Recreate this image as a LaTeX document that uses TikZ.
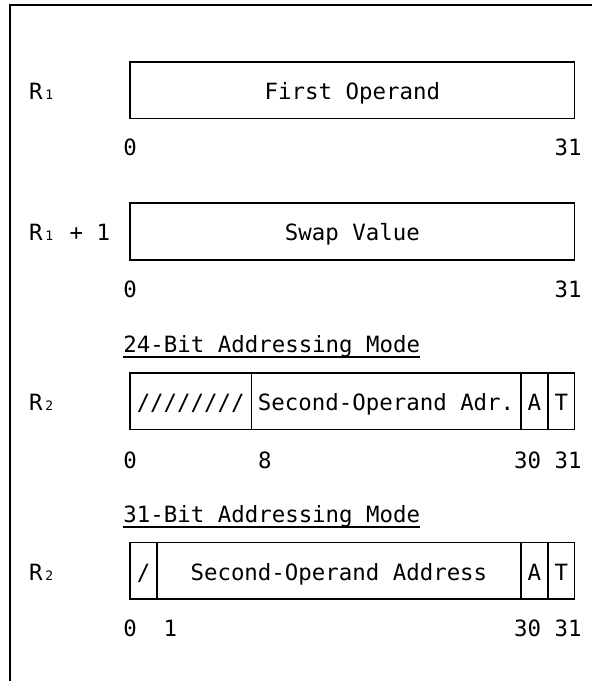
\documentclass[tikz,border=0pt]{standalone}
\usepackage{fontspec}
\newfontfamily\ibm{DejaVu Sans Mono}
\newcommand\subdig[1]{\makebox[13.48pt][c]{\fontsize{13}{13}\selectfont #1}}
\begin{document}
\begin{tikzpicture}[x=1pt,y=-1pt,
  txt/.style={font=\ibm\fontsize{22.4}{26}\selectfont, inner sep=0pt, anchor=base},
  lbl/.style={txt, anchor=base west},
  cellbox/.style={draw, line width=1.3pt, inner sep=0pt},
  frameline/.style={line width=1.5pt},
  uline/.style={line width=1.4pt}]
\useasboundingbox (0,0) rectangle (592,681);
% frame
\coordinate (ftr) at (592,5);
\coordinate (ftl) at (10,5);
\coordinate (fbl) at (10,681);
\draw[frameline] (ftr) -- (ftl) -- (fbl);

% ---- Register R1 ----
\node[lbl] (r1) at (28.9,99.5) {R\subdig{1}};
\draw[cellbox] (130,62) rectangle (574.8,118.5);
\node[txt] (fo) at (352.4,99.5) {First Operand};
\node[txt] (a0) at (130,155) {0};
\node[txt] (a31) at (568.1,155) {31};

% ---- Register R1+1 ----
\node[lbl] (r1p) at (28.9,240.5) {R\subdig{1} + 1};
\draw[cellbox] (130,203) rectangle (574.8,260);
\node[txt] (sv) at (352.4,240.5) {Swap Value};
\node[txt] (b0) at (130,297) {0};
\node[txt] (b31) at (568.1,297) {31};

% ---- 24-bit ----
\node[lbl] (h24) at (123.26,352) {24-Bit Addressing Mode};
\draw[uline] ([yshift=-5pt]h24.base west) -- ([yshift=-5pt]h24.base east);
\node[lbl] (r2a) at (28.9,410.5) {R\subdig{2}};
\draw[cellbox] (130,373) rectangle (574.8,429.5);
\draw[cellbox] (251.3,373) -- (251.3,429.5);
\draw[cellbox] (520.9,373) -- (520.9,429.5);
\draw[cellbox] (547.9,373) -- (547.9,429.5);
\node[txt] (s24) at (190.7,410.5) {////////};
\node[txt] (soa) at (386.1,410.5) {Second-Operand Adr.};
\node[txt] (aa) at (534.4,410.5) {A};
\node[txt] (ta) at (561.4,410.5) {T};
\node[txt] (c0) at (130,468) {0};
\node[txt] (c8) at (264.8,468) {8};
\node[txt] (c30) at (547.9,468) {30 31};

% ---- 31-bit ----
\node[lbl] (h31) at (123.26,522) {31-Bit Addressing Mode};
\draw[uline] ([yshift=-5pt]h31.base west) -- ([yshift=-5pt]h31.base east);
\node[lbl] (r2b) at (28.9,580.5) {R\subdig{2}};
\draw[cellbox] (130,542.5) rectangle (574.8,599);
\draw[cellbox] (157,542.5) -- (157,599);
\draw[cellbox] (520.9,542.5) -- (520.9,599);
\draw[cellbox] (547.9,542.5) -- (547.9,599);
\node[txt] (s31) at (143.5,580.5) {/};
\node[txt] (sob) at (338.9,580.5) {Second-Operand Address};
\node[txt] (ab) at (534.4,580.5) {A};
\node[txt] (tb) at (561.4,580.5) {T};
\node[txt] (d0) at (130,636) {0};
\node[txt] (d1) at (170.4,636) {1};
\node[txt] (d30) at (547.9,636) {30 31};
\end{tikzpicture}
\end{document}
